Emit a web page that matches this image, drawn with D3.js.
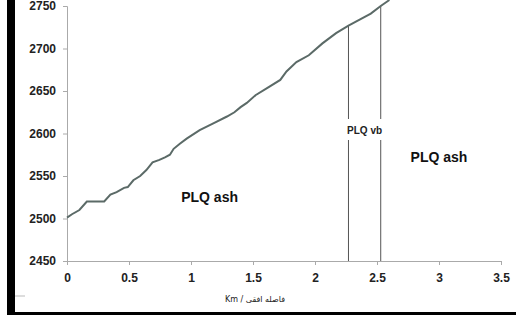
<!DOCTYPE html>
<html><head><meta charset="utf-8">
<script src="https://cdn.jsdelivr.net/npm/d3@7"></script>
<style>html,body{margin:0;padding:0;background:#fff;overflow:hidden}svg{display:block;position:absolute;left:0;top:0}
#lbar{position:absolute;left:7px;top:0;width:8px;height:315px;background:#000;z-index:5}
#bbar{position:absolute;left:7px;top:312px;width:509px;height:3px;background:#000;z-index:5}</style>
</head><body>
<div id="lbar"></div><div id="bbar"></div>
<script>
const distance = [0,0.04,0.1,0.16,0.3,0.35,0.4,0.46,0.49,0.535,0.59,0.64,0.69,0.745,0.79,0.83,0.86,0.91,0.965,1.07,1.18,1.29,1.35,1.4,1.45,1.52,1.61,1.72,1.77,1.85,1.95,2.06,2.17,2.27,2.36,2.45,2.53,2.6];
const elevation = [2501,2505,2510,2520,2520,2528,2531,2536,2537,2545,2550,2557,2566,2569,2572,2575,2582,2588,2594,2604,2612,2620,2625,2631,2636,2645,2653,2663,2673,2684,2692,2706,2718,2727,2734,2741,2750,2757];
const xTicks = [0,0.5,1,1.5,2,2.5,3,3.5];
const yTicks = [2450,2500,2550,2600,2650,2700,2750];
const contacts = [2.27,2.53];
const contactTop = [2727,2750];
const unitLabels = [{t:"PLQ ash",x:1.15,v:2525},{t:"PLQ ash",x:3.0,v:2572}];
const contactLabel = "PLQ vb";
const xTitle = "فاصله افقی / Km";

const W=516,H=315;
const svg=d3.select("body").append("svg").attr("width",W).attr("height",H);
const x=d3.scaleLinear().domain([0,3.5]).range([67,501]);
const y=d3.scaleLinear().domain([2450,2750]).range([261,6]);
const font="'Liberation Sans', Arial, sans-serif";

const gx=svg.append("g").attr("transform","translate(0,261)")
  .call(d3.axisBottom(x).tickValues(xTicks).tickSize(4).tickFormat(d3.format("")));
const gy=svg.append("g").attr("transform","translate(67,0)")
  .call(d3.axisLeft(y).tickValues(yTicks).tickSize(4).tickFormat(d3.format("d")));
[gx,gy].forEach(g=>{
  g.select(".domain").attr("stroke","#aaa");
  g.selectAll(".tick line").attr("stroke","#aaa");
  g.selectAll(".tick text").attr("fill","#222").attr("font-family",font).attr("font-size",12).attr("font-weight","bold");
});
gx.selectAll(".tick text").attr("dy","1.2em");
gy.selectAll(".tick text").attr("dx","-4");

contacts.forEach((c,i)=>{
  svg.append("line").attr("x1",x(c)).attr("x2",x(c)).attr("y1",y(contactTop[i])).attr("y2",119).attr("stroke","#555").attr("stroke-width",1);
  svg.append("line").attr("x1",x(c)).attr("x2",x(c)).attr("y1",140).attr("y2",261).attr("stroke","#555").attr("stroke-width",1);
});
svg.append("text").attr("x",(x(contacts[0])+x(contacts[1]))/2).attr("y",130).attr("dy","0.35em")
  .attr("text-anchor","middle").attr("font-family",font).attr("font-size",10).attr("font-weight","bold").attr("fill","#222").text(contactLabel);

svg.append("path").datum(distance.map((d,i)=>[d,elevation[i]]))
  .attr("d",d3.line().x(d=>x(d[0])).y(d=>y(d[1])))
  .attr("fill","none").attr("stroke","#5b6a67").attr("stroke-width",2);

unitLabels.forEach(l=>{
  svg.append("text").attr("x",x(l.x)).attr("y",y(l.v)).attr("dy","0.35em").attr("text-anchor","middle")
    .attr("font-family",font).attr("font-size",14).attr("font-weight","bold").attr("fill","#111").text(l.t);
});

svg.append("text").attr("x",255).attr("y",299).attr("dy","0.35em").attr("text-anchor","middle")
  .attr("direction","rtl").attr("font-family","'DejaVu Sans', sans-serif").attr("font-size",8).attr("fill","#222").text(xTitle);

svg.append("line").attr("x1",15).attr("x2",25).attr("y1",296).attr("y2",296).attr("stroke","#bbb");
</script>
</body></html>
